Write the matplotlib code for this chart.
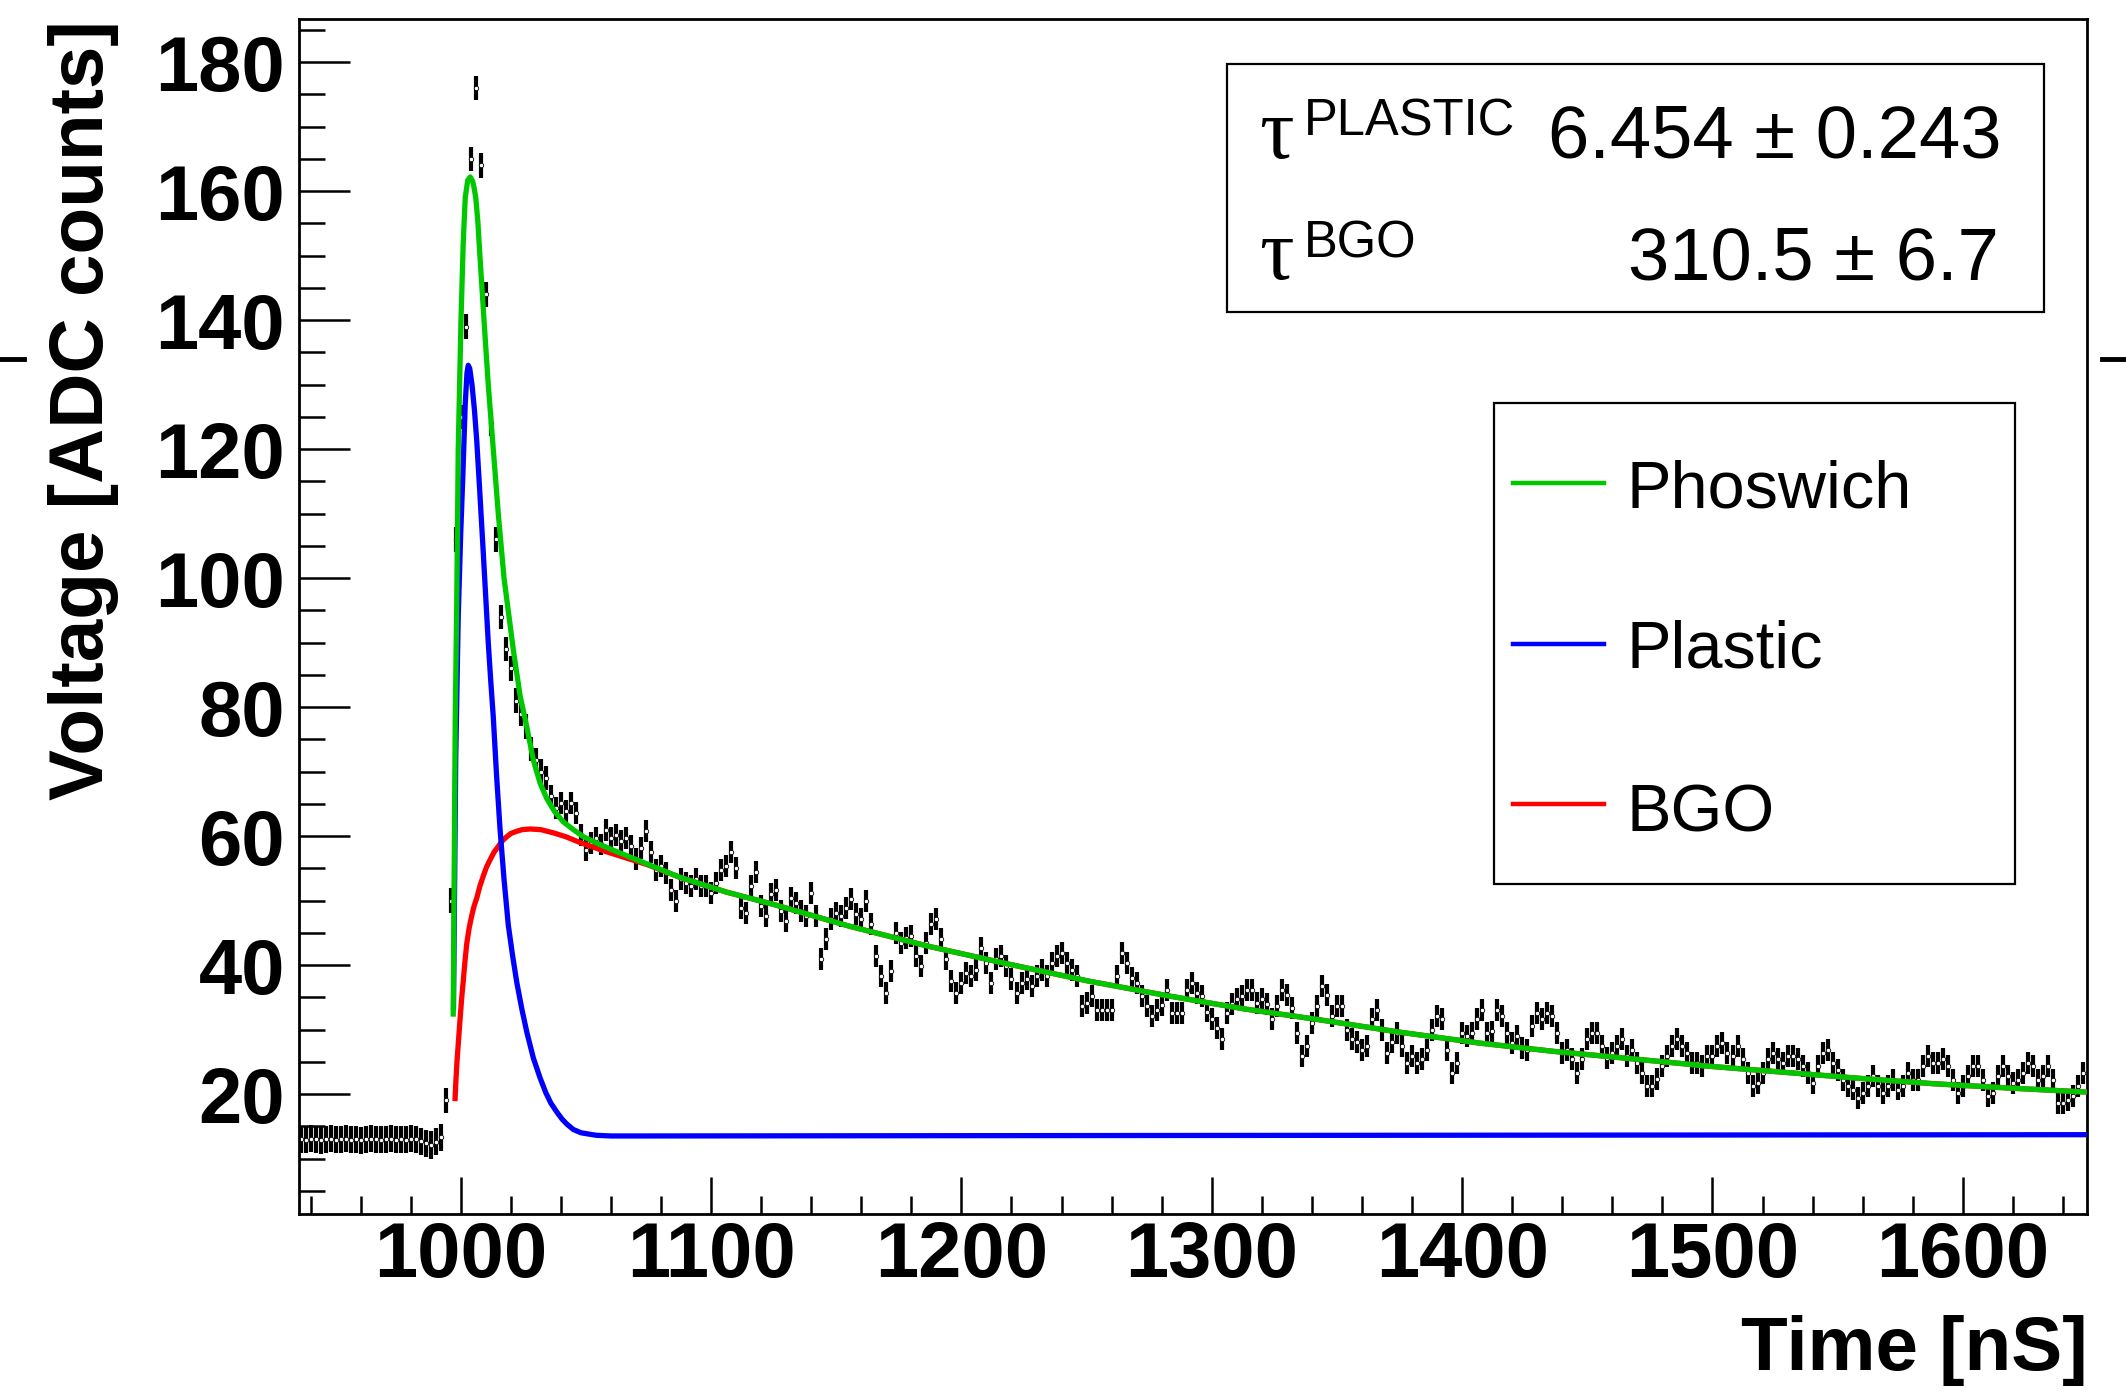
import numpy as np
import matplotlib
matplotlib.use("Agg")
import matplotlib.pyplot as plt
from matplotlib.lines import Line2D
from matplotlib.patches import Rectangle
from matplotlib.ticker import MultipleLocator

plt.rcParams['font.family'] = ['Liberation Sans', 'DejaVu Sans']

# ---------------- data ----------------
# measured waveform, 2 ns samples; each segment: start time [ns], values
baseline_start = 936
baseline_v = [13.0, 12.9, 13.1, 13.0, 12.8, 13.0, 13.1, 12.9, 13.0, 13.1,
              12.9, 13.0, 12.8, 13.0, 13.1, 13.0, 12.9, 13.0, 13.1, 12.9,
              13.0, 12.9, 13.1, 13.0, 12.7, 12.4, 12.1, 12.6, 13.3]
peak_start = 994
peak_v = [19.0, 50.0, 106.0, 125.0, 139.0, 165.0, 176.0, 164.0, 144.0, 124.0,
          106.0, 94.0, 89.0, 86.0, 81.0, 79.0, 77.0, 73.5, 71.8, 70.0, 69.0]
tail_a_start = 1036
tail_a_v = [66.2, 64.4, 65.2, 63.9, 65.2, 63.6, 60.2, 57.9, 59.0, 59.7,
            58.7, 61.0, 59.7, 60.2, 59.2, 59.7, 58.4, 56.4, 58.2, 60.8,
            57.6, 54.8, 55.3, 54.3, 51.7, 49.9, 53.3, 52.7, 52.2, 53.3,
            52.2, 52.2, 51.2, 52.7, 54.8, 55.3, 57.6, 55.1, 48.9, 48.1,
            52.2, 54.5, 49.1, 47.6, 51.0, 51.7, 48.4, 46.8, 50.4, 49.6,
            48.4, 47.6, 51.2, 47.6, 40.9, 44.0, 47.1, 48.1, 47.6, 48.9]
tail_b_start = 1156
tail_b_v = [50.2, 47.9, 47.1, 49.9, 46.3, 41.4, 38.3, 35.7, 39.1, 45.0,
            43.4, 44.2, 44.5, 41.4, 39.8, 43.4, 46.3, 47.1, 44.0, 40.9,
            37.5, 35.7, 37.2, 38.8, 38.3, 39.3, 42.7, 40.3, 37.2, 40.9,
            41.4, 39.8, 37.8, 35.7, 37.2, 37.8, 36.7, 38.3, 39.3, 38.3,
            40.3, 41.4, 41.9, 40.3, 39.3, 38.3, 33.6, 34.1, 35.2, 33.1,
            33.1, 33.1, 33.1, 38.3, 41.9, 40.3, 38.0, 37.2, 35.2, 33.6,
            32.1, 33.1]
tail_c_start = 1280
tail_c_v = [33.8, 36.2, 32.6, 32.6, 32.6, 36.2, 37.2, 35.7, 35.2, 32.8,
            31.6, 30.3, 28.5, 32.6, 33.9, 34.7, 35.2, 36.2, 36.2, 34.1,
            34.7, 33.9, 31.6, 33.6, 36.2, 35.4, 33.4, 29.5, 25.9, 27.4,
            31.0, 33.6, 36.7, 35.4, 32.1, 33.6, 33.6, 30.0, 28.5, 28.0,
            26.9, 27.4, 31.6, 33.1, 30.0, 26.4, 28.0, 29.5, 27.4, 24.8,
            25.9, 24.8, 25.4, 26.9, 30.0, 32.1, 31.6, 26.9, 23.3, 24.8,
            29.5, 29.0]
tail_d_start = 1404
tail_d_v = [29.5, 31.6, 33.1, 29.5, 29.7, 33.1, 32.1, 29.5, 27.9, 29.0,
            27.2, 26.9, 30.5, 32.6, 31.6, 32.6, 32.1, 29.5, 26.4, 26.9,
            25.4, 23.3, 25.4, 28.5, 29.5, 29.5, 27.4, 25.6, 26.4, 27.4,
            28.5, 25.9, 26.9, 24.8, 23.3, 21.2, 21.2, 22.3, 24.3, 25.9,
            27.4, 28.5, 27.4, 26.4, 24.8, 24.8, 24.3, 25.9, 25.9, 27.4,
            27.9, 26.4, 25.9, 27.4, 25.4, 23.3, 21.2, 21.7, 23.3, 25.4,
            26.4, 25.4]
tail_e_start = 1528
tail_e_v = [24.8, 25.9, 25.9, 25.4, 24.3, 23.3, 21.7, 24.3, 26.4, 26.9,
            24.8, 23.8, 22.2, 21.2, 20.7, 19.4, 20.2, 21.2, 22.8, 21.2,
            20.2, 21.2, 22.2, 20.7, 21.2, 23.3, 22.2, 22.2, 24.3, 25.9,
            24.8, 24.8, 25.4, 24.3, 22.2, 20.2, 21.2, 22.8, 24.3, 24.3,
            22.2, 19.7, 20.2, 22.8, 24.3, 22.8, 21.7, 22.2, 23.3, 24.8,
            24.3, 22.2, 22.8, 24.3, 22.2, 18.6, 18.6, 19.1, 19.7, 21.2,
            23.3]
err_baseline = 2.1
err_peak = 1.9
err_tail = 1.7

# fitted curves
phoswich_t = [997.0, 997.4, 997.8, 998.4, 999.0, 1000.1, 1001.0, 1001.8, 1002.8,
              1003.8, 1004.8, 1005.3, 1006.0, 1006.8, 1007.5, 1009.3, 1011.0,
              1013.0, 1015.0, 1017.3, 1018.4, 1021.0, 1023.7, 1026.3, 1029.0,
              1031.7, 1034.4, 1037.5, 1041.0, 1045.0, 1049.0, 1055.0, 1061.0,
              1074.3, 1087.6, 1106.3, 1125.0, 1155.5, 1187.0, 1219.4, 1251.0,
              1283.0, 1313.0, 1343.3, 1375.0, 1407.0, 1437.0, 1467.0, 1499.0,
              1531.0, 1560.0, 1588.4, 1620.0, 1649.6]
phoswich_v = [32.0, 55.0, 78.0, 96.0, 120.0, 140.0, 152.0, 159.0, 161.7,
              162.2, 161.5, 160.6, 159.0, 155.5, 151.0, 140.0, 130.0,
              120.0, 110.0, 100.0, 96.7, 88.9, 81.8, 77.1, 71.8,
              68.2, 65.8, 63.8, 62.2, 61.0, 59.9, 58.8, 57.8,
              55.7, 53.6, 51.3, 49.4, 46.0, 42.9, 40.1, 37.5,
              35.2, 33.2, 31.5, 29.6, 27.9, 26.6, 25.5, 24.3,
              23.3, 22.4, 21.6, 20.9, 20.3]
plastic_t = [997.1, 997.5, 998.0, 999.0, 1000.0, 1000.8, 1001.8, 1002.5, 1003.0,
             1003.6, 1004.5, 1005.5, 1006.4, 1007.7, 1009.0, 1010.0, 1011.0,
             1012.0, 1013.0, 1014.3, 1015.7, 1017.3, 1019.0, 1020.7, 1022.4,
             1024.4, 1026.4, 1029.0, 1031.7, 1034.0, 1036.0, 1038.4, 1040.5,
             1042.5, 1045.0, 1048.0, 1051.0, 1054.3, 1060.0, 1070.0, 1649.6]
plastic_v = [33.0, 50.0, 72.0, 94.0, 107.0, 115.4, 127.0, 131.8, 133.0,
             132.5, 130.0, 126.0, 121.3, 112.8, 104.0, 97.0, 90.0,
             84.0, 78.5, 69.5, 61.1, 53.3, 46.2, 41.5, 37.3,
             33.2, 29.6, 25.6, 22.5, 20.2, 18.6, 17.2, 16.1,
             15.3, 14.5, 14.0, 13.8, 13.6, 13.5, 13.5, 13.7]
bgo_t = [997.7, 998.0, 998.5, 999.0, 999.7, 1000.3, 1001.0, 1001.7, 1002.4,
         1003.3, 1004.3, 1005.3, 1006.4, 1007.7, 1009.0, 1010.3, 1011.7,
         1013.3, 1015.0, 1016.7, 1018.4, 1020.0, 1022.0, 1024.5, 1027.7,
         1032.0, 1037.0, 1042.0, 1047.7, 1058.0, 1074.3, 1087.6, 1106.3,
         1125.0, 1155.5, 1187.0, 1219.4, 1251.0, 1283.0, 1313.0, 1343.3,
         1375.0, 1407.0, 1437.0, 1467.0, 1499.0, 1531.0, 1560.0, 1588.4,
         1620.0, 1649.6]
bgo_v = [18.9, 21.5, 25.0, 27.7, 31.4, 34.5, 37.5, 40.6, 43.3,
         45.6, 47.5, 49.1, 50.4, 52.3, 53.8, 55.2, 56.3,
         57.5, 58.4, 59.3, 59.9, 60.4, 60.7, 61.0, 61.1,
         61.0, 60.5, 59.9, 59.0, 57.6, 55.6, 53.6, 51.3,
         49.4, 46.0, 42.9, 40.1, 37.5, 35.2, 33.2, 31.5,
         29.6, 27.9, 26.6, 25.5, 24.3, 23.3, 22.4, 21.6,
         20.9, 20.3]

legend_labels = ['Phoswich', 'Plastic', 'BGO']
tau_plastic_text = '6.454 ± 0.243'
tau_bgo_text = '310.5 ± 6.7'

# ---------------- figure ----------------
W, H = 2126, 1398
fig = plt.figure(figsize=(W / 100, H / 100), dpi=100)
fig.patch.set_facecolor('white')


def fx(px):
    return px / W


def fy(py):
    return 1 - py / H


ax = fig.add_axes([fx(299), fy(1214), fx(2087) - fx(299), fy(19) - fy(1214)])

segments = [(baseline_start, baseline_v, err_baseline),
            (peak_start, peak_v, err_peak),
            (tail_a_start, tail_a_v, err_tail),
            (tail_b_start, tail_b_v, err_tail),
            (tail_c_start, tail_c_v, err_tail),
            (tail_d_start, tail_d_v, err_tail),
            (tail_e_start, tail_e_v, err_tail)]
for start, vals, err in segments:
    t = start + 2 * np.arange(len(vals))
    ax.errorbar(t, vals, yerr=err, fmt='o', ms=3.2, mfc='white', mec='black',
                mew=0.6, ecolor='black', elinewidth=3.0, capsize=0, zorder=2)

GREEN, BLUE, RED = '#00c800', '#0000ff', '#ff0000'
ax.plot(bgo_t, bgo_v, color=RED, lw=3.8, zorder=3, solid_capstyle='butt',
        solid_joinstyle='round')
ax.plot(plastic_t, plastic_v, color=BLUE, lw=3.8, zorder=4, solid_capstyle='butt',
        solid_joinstyle='round')
ax.plot(phoswich_t, phoswich_v, color=GREEN, lw=3.8, zorder=5, solid_capstyle='butt',
        solid_joinstyle='round')

ax.set_xlim(935.4, 1649.6)
ax.set_ylim(1.4, 186.7)
ax.xaxis.set_major_locator(MultipleLocator(100))
ax.xaxis.set_minor_locator(MultipleLocator(20))
ax.yaxis.set_major_locator(MultipleLocator(20))
ax.yaxis.set_minor_locator(MultipleLocator(5))
ax.tick_params(axis='x', which='major', direction='in', length=26.6, width=1.8,
               labelsize=56, pad=4, top=False)
ax.tick_params(axis='x', which='minor', direction='in', length=13, width=1.8, top=False)
ax.tick_params(axis='y', which='major', direction='in', length=37, width=1.8,
               labelsize=56, pad=10, right=False)
ax.tick_params(axis='y', which='minor', direction='in', length=19, width=1.8, right=False)
for lab in ax.get_xticklabels() + ax.get_yticklabels():
    lab.set_fontweight('bold')
for sp in ax.spines.values():
    sp.set_linewidth(2.0)

# axis titles
fig.text(fx(2088), fy(1370), 'Time [nS]', ha='right', va='baseline',
         fontsize=55, fontweight='bold')
fig.text(fx(84), fy(20), 'Voltage [ADC counts]', rotation=90, ha='center',
         va='top', fontsize=55, fontweight='bold')

# fit results box
fig.add_artist(Rectangle((fx(1227), fy(312)), fx(2044) - fx(1227), fy(64) - fy(312),
                         transform=fig.transFigure, fill=False, ec='black', lw=1.6))
TAU_FONT = ['Liberation Serif', 'DejaVu Serif']
fig.text(fx(1259), fy(158), 'τ', fontsize=62, family=TAU_FONT, va='baseline')
fig.text(fx(1304), fy(135), 'PLASTIC', fontsize=36.5, va='baseline')
fig.text(fx(2001), fy(157), tau_plastic_text, fontsize=53.5, ha='right', va='baseline')
fig.text(fx(1259), fy(279), 'τ', fontsize=62, family=TAU_FONT, va='baseline')
fig.text(fx(1304), fy(257), 'BGO', fontsize=36.5, va='baseline')
fig.text(fx(1999), fy(279), tau_bgo_text, fontsize=53.5, ha='right', va='baseline')

# legend
fig.add_artist(Rectangle((fx(1494), fy(884)), fx(2015) - fx(1494), fy(403) - fy(884),
                         transform=fig.transFigure, fill=False, ec='black', lw=1.6))
for (ly, tb), col, lab in zip([(483, 507), (644, 668), (804, 832)],
                               [GREEN, BLUE, RED], legend_labels):
    fig.add_artist(Line2D([fx(1513), fx(1604)], [fy(ly), fy(ly)], color=col, lw=3.2,
                          transform=fig.transFigure))
    fig.text(fx(1626), fy(tb), lab, fontsize=48, va='baseline')

# small marks outside the frame
fig.add_artist(Line2D([0, fx(24)], [fy(359), fy(359)], color='black', lw=3.5,
                      transform=fig.transFigure))
fig.add_artist(Line2D([fx(2102), 1], [fy(359), fy(359)], color='black', lw=3.5,
                      transform=fig.transFigure))

fig.savefig('out.png', dpi=100)
